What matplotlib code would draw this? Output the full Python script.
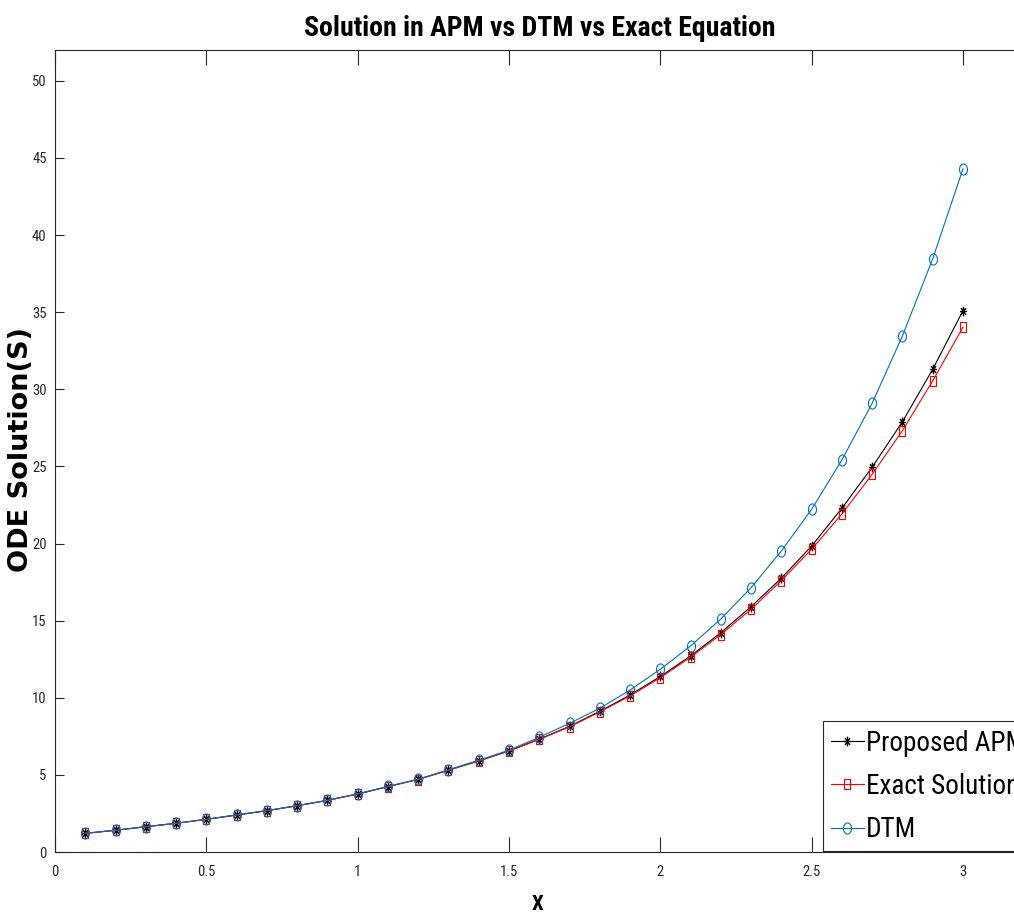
import numpy as np
import matplotlib
matplotlib.use("Agg")
import matplotlib.pyplot as plt
from matplotlib.path import Path
from matplotlib import font_manager
from matplotlib.font_manager import FontProperties

x = [0.1, 0.2, 0.3, 0.4, 0.5, 0.6, 0.7, 0.8, 0.9, 1.0,
     1.1, 1.2, 1.3, 1.4, 1.5, 1.6, 1.7, 1.8, 1.9, 2.0,
     2.1, 2.2, 2.3, 2.4, 2.5, 2.6, 2.7, 2.8, 2.9, 3.0]
exact = [1.21, 1.41, 1.64, 1.86, 2.12, 2.40, 2.68, 3.00, 3.35, 3.76,
         4.24, 4.70, 5.30, 5.90, 6.55, 7.30, 8.12, 9.08, 10.12, 11.30,
         12.63, 14.10, 15.74, 17.60, 19.63, 21.92, 24.49, 27.32, 30.55, 34.03]
apm = [1.21, 1.41, 1.64, 1.86, 2.12, 2.40, 2.68, 3.00, 3.35, 3.76,
       4.24, 4.71, 5.31, 5.91, 6.56, 7.32, 8.15, 9.12, 10.18, 11.38,
       12.71, 14.22, 15.91, 17.75, 19.84, 22.29, 24.95, 27.90, 31.30, 35.10]
dtm = [1.21, 1.41, 1.64, 1.86, 2.12, 2.40, 2.68, 3.00, 3.35, 3.77,
       4.25, 4.72, 5.33, 5.95, 6.60, 7.44, 8.34, 9.32, 10.50, 11.85,
       13.36, 15.11, 17.14, 19.52, 22.22, 25.42, 29.10, 33.46, 38.46, 44.29]
labels = ["Proposed APM", "Exact Solution", "DTM"]
xticks = [0, 0.5, 1, 1.5, 2, 2.5, 3]
yticks = [0, 5, 10, 15, 20, 25, 30, 35, 40, 45, 50]

# pick a condensed family if one is installed
narrow = None
for cand in ["Liberation Sans Narrow", "Roboto Condensed", "DejaVu Sans Condensed",
             "Open Sans Condensed", "Noto Sans Condensed"]:
    try:
        font_manager.findfont(FontProperties(family=cand), fallback_to_default=False)
        narrow = cand
        break
    except Exception:
        pass
stretch = "normal"
if narrow is None:
    p = font_manager.findfont(FontProperties(family="DejaVu Sans", stretch="condensed"))
    if "ondensed" in p:
        narrow, stretch = "DejaVu Sans", "condensed"
scale = 1.0
if narrow is None:
    narrow = "Liberation Sans"
    scale = 0.86

sx = 0.72  # horizontal compression of markers
t = np.linspace(0, 2 * np.pi, 41)
ell = Path(np.column_stack([sx * np.cos(t), np.sin(t)]))
rect = Path([(-sx, -1), (sx, -1), (sx, 1), (-sx, 1), (-sx, -1)],
            [Path.MOVETO, Path.LINETO, Path.LINETO, Path.LINETO, Path.CLOSEPOLY])
verts, codes = [], []
for a in [0, 45, 90, 135]:
    r = np.deg2rad(a)
    dx, dy = sx * np.cos(r), np.sin(r)
    verts += [(-dx, -dy), (dx, dy)]
    codes += [Path.MOVETO, Path.LINETO]
star = Path(verts, codes)

W, H = 1014, 915
fig = plt.figure(figsize=(W / 100, H / 100), dpi=100)
left, right, bottom, top = 55, 1023.5, 852, 50
ax = fig.add_axes([left / W, (H - bottom) / H, (right - left) / W, (bottom - top) / H])

blue = (0, 0.447, 0.741)
ax.plot(x, apm, color="black", lw=0.8, marker=star, ms=7, mfc="none", mec="black", mew=1.0, label=labels[0])
ax.plot(x, exact, color="red", lw=0.8, marker=rect, ms=6.5, mfc="none", mec="red", mew=0.8, label=labels[1])
ax.plot(x, dtm, color=blue, lw=0.8, marker=ell, ms=8, mfc="none", mec=blue, mew=0.8, label=labels[2])

ax.set_xlim(0, 3.2)
ax.set_ylim(0, 52)
ax.set_xticks(xticks)
ax.set_xticklabels([f"{v:g}" for v in xticks])
ax.set_yticks(yticks)
ax.set_yticklabels([str(v) for v in yticks])
dark = (0.15, 0.15, 0.15)
for s in ax.spines.values():
    s.set_color(dark)
    s.set_linewidth(0.8)
ax.spines["right"].set_visible(False)
ax.tick_params(axis="x", direction="in", length=11, width=0.8, top=True, colors=dark, pad=9)
ax.tick_params(axis="y", direction="in", length=6.5, width=0.8, colors=dark, pad=6)
for lab in ax.get_xticklabels() + ax.get_yticklabels():
    lab.set_family(narrow)
    lab.set_stretch(stretch)
    lab.set_fontsize(10.5 * scale)
    lab.set_color(dark)

ax.set_title("Solution in APM vs DTM vs Exact Equation", family=narrow, stretch=stretch,
             fontsize=20 * (0.84 if scale < 1 else 1.0), fontweight="bold", pad=10)
ax.set_xlabel("X", family=narrow, stretch=stretch, fontsize=15, fontweight="bold")
ax.xaxis.set_label_coords((538 - left) / (right - left), -(905 - bottom) / (bottom - top))
ax.xaxis.label.set_va("center")
ax.set_ylabel("ODE Solution(S)", family="DejaVu Sans", fontsize=19.5, fontweight="bold")
ax.yaxis.set_label_coords((21 - left) / (right - left), (bottom - 450) / (bottom - top))
ax.yaxis.label.set_va("center")

leg = ax.legend(loc="lower left", bbox_to_anchor=((823 - left) / (right - left), 0.001),
                prop={"family": narrow, "stretch": stretch, "size": 19.5 * (0.9 if scale < 1 else 1.0)},
                handlelength=1.2, handletextpad=0.1,
                labelspacing=0.6, borderpad=0.3, borderaxespad=0, fancybox=False,
                framealpha=1, edgecolor=dark)
leg.get_frame().set_linewidth(0.8)

fig.savefig("out.png", dpi=100)
